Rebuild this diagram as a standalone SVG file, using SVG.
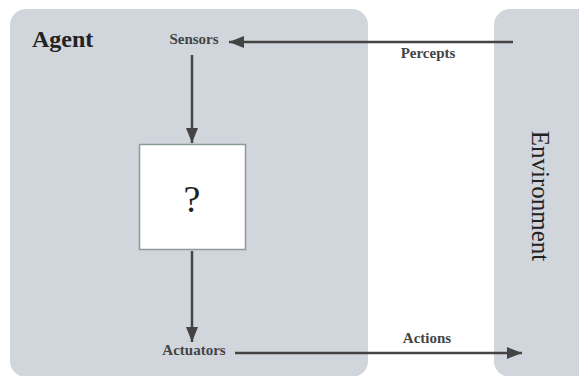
<svg xmlns="http://www.w3.org/2000/svg" width="579" height="376" viewBox="0 0 579 376">
<style>
.panel{fill:#d1d5dc}
.t{font-family:"Liberation Serif","DejaVu Serif",serif;fill:#222}
.s{font-size:15px;font-weight:bold;fill:#444;text-anchor:middle}
.c{stroke:#444;stroke-width:2.5;fill:none}
</style>
<defs>
<marker id="ah" viewBox="0 0 10 10" refX="10" refY="5" markerWidth="8" markerHeight="6" markerUnits="strokeWidth" orient="auto">
<path d="M0,1 L10,5 L0,9 z" fill="#444"/>
</marker>
</defs>
<rect width="579" height="376" fill="#fff"/>
<g id="agent">
<rect class="panel" x="10" y="9" width="358" height="368" rx="16"/>
<text class="t" x="32" y="47" font-size="24" font-weight="bold">Agent</text>
</g>
<g id="environment">
<rect class="panel" x="494" y="9" width="120" height="368" rx="16"/>
<text class="t" transform="translate(532,196) rotate(90)" font-size="25" text-anchor="middle">Environment</text>
</g>
<g id="sensors"><text class="t s" x="194" y="44" font-size="14">Sensors</text></g>
<g id="box">
<rect x="139.5" y="144.5" width="106" height="105" fill="#fff" stroke="#8c9a9e" stroke-width="1.5"/>
<text class="t" x="192" y="212" font-size="38" text-anchor="middle">?</text>
</g>
<g id="actuators"><text class="t s" x="194" y="355">Actuators</text></g>
<g id="connectors">
<line class="c" x1="513" y1="42" x2="229" y2="42" marker-end="url(#ah)"/>
<line class="c" x1="192" y1="55" x2="192" y2="143" marker-end="url(#ah)"/>
<line class="c" x1="192" y1="251" x2="192" y2="342" marker-end="url(#ah)"/>
<line class="c" x1="235" y1="353" x2="522" y2="353" marker-end="url(#ah)"/>
<text class="t s" x="428" y="58">Percepts</text>
<text class="t s" x="427" y="343">Actions</text>
</g>
</svg>
